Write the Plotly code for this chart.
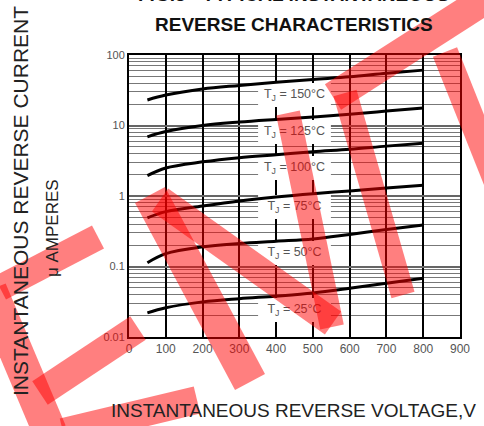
import plotly.graph_objects as go

# ---- data ----
voltage = [50, 100, 200, 300, 400, 500, 600, 700, 800]
i_150 = [23, 27, 33, 37, 41, 45, 49, 55, 61]
i_125 = [6.9, 8.2, 10, 11.2, 12.2, 13.2, 14.4, 16, 17.7]
i_100 = [1.95, 2.5, 3.05, 3.5, 3.85, 4.25, 4.6, 5.1, 5.6]
i_75 = [0.49, 0.6, 0.72, 0.85, 0.97, 1.08, 1.18, 1.3, 1.42]
i_50 = [0.113, 0.152, 0.19, 0.212, 0.228, 0.245, 0.285, 0.335, 0.388]
i_25 = [0.022, 0.026, 0.0315, 0.035, 0.038, 0.042, 0.049, 0.058, 0.068]

series = [("150", i_150), ("125", i_125), ("100", i_100),
          ("75", i_75), ("50", i_50), ("25", i_25)]

label_temps = ["150", "125", "100", "75", "50", "25"]
label_y = [27.1, 8.09, 2.49, 0.698, 0.155, 0.0241]
label_x = 450

x_ticks = [0, 100, 200, 300, 400, 500, 600, 700, 800, 900]
y_ticks = [0.01, 0.1, 1, 10, 100]
y_ticktext = ["0.01", "0.1", "1", "10", "100"]

FONT = "Arial, Liberation Sans, sans-serif"

fig = go.Figure()

# white boxes behind the temperature labels (above grid, below curves)
BOX_HALF_W = 99          # volts
BOX_HALF_H = 10 ** 0.17  # factor on log axis
for yv in label_y:
    fig.add_shape(type="rect", xref="x", yref="y",
                  x0=label_x - BOX_HALF_W, x1=label_x + BOX_HALF_W,
                  y0=yv / BOX_HALF_H, y1=yv * BOX_HALF_H,
                  fillcolor="white", line=dict(width=0), layer="between")

for name, vals in series:
    fig.add_trace(go.Scatter(x=voltage, y=vals, mode="lines",
                             line=dict(color="black", width=3, shape="spline"),
                             name=name, showlegend=False, hoverinfo="skip"))

fig.add_trace(go.Scatter(x=[label_x] * len(label_y), y=label_y, mode="text",
                         text=[f"T<sub>J</sub> = {t}°C" for t in label_temps],
                         textposition="middle center",
                         textfont=dict(family=FONT, size=12.5, color="#555"),
                         showlegend=False, hoverinfo="skip"))

# titles
fig.add_annotation(x=0.5, y=1, xref="paper", yref="paper", showarrow=False,
                   text="<b>FIG.3 - TYPICAL INSTANTANEOUS</b>", yanchor="middle",
                   yshift=61, xshift=-1,
                   font=dict(family=FONT, size=19, color="#111"))
fig.add_annotation(x=0.5, y=1, xref="paper", yref="paper", showarrow=False,
                   text="<b>REVERSE CHARACTERISTICS</b>", yanchor="middle",
                   yshift=31, xshift=-1,
                   font=dict(family=FONT, size=19, color="#111"))
fig.add_annotation(x=0.5, y=0, xref="paper", yref="paper", showarrow=False,
                   text="INSTANTANEOUS REVERSE VOLTAGE,V", yanchor="middle",
                   yshift=-73, xshift=-1,
                   font=dict(family=FONT, size=19, color="#222"))
fig.add_annotation(x=0, y=0.5, xref="paper", yref="paper", showarrow=False,
                   text="INSTANTANEOUS REVERSE CURRENT", textangle=-90,
                   xanchor="center", yanchor="middle", xshift=-109, yshift=-5,
                   font=dict(family=FONT, size=21, color="#222"))
fig.add_annotation(x=0, y=0.5, xref="paper", yref="paper", showarrow=False,
                   text="μ AMPERES", textangle=-90,
                   xanchor="center", yanchor="middle", xshift=-77, yshift=-32,
                   font=dict(family=FONT, size=17, color="#222"))

# watermark strokes (pixel coordinates of the page)
L, T, W, H = 129, 55, 331, 282
def px2paper(px, py):
    return (px - L) / W, (T + H - py) / H

strokes = [
    ((-10, 290), (50, 432), 34),
    ((0, 288), (98, 237), 26),
    ((40, 393), (138, 328), 28),
    ((63, 432), (197, 400), 28),
    ((150, 195), (250, 382), 34),
    ((160, 200), (333, 323), 28),
    ((288, 113), (332, 327), 24),
    ((345, 93), (403, 295), 24),
    ((333, 97), (500, -10), 30),
    ((445, 52), (500, 190), 26),
]
for (x0, y0), (x1, y1), w in strokes:
    a0, b0 = px2paper(x0, y0)
    a1, b1 = px2paper(x1, y1)
    fig.add_shape(type="line", xref="paper", yref="paper", x0=a0, y0=b0,
                  x1=a1, y1=b1, layer="above",
                  line=dict(color="rgba(255,0,0,0.5)", width=w))

fig.update_layout(
    width=484, height=426,
    margin=dict(l=129, r=24, t=55, b=89),
    paper_bgcolor="white", plot_bgcolor="white",
    font=dict(family=FONT),
    hovermode=False,
)
fig.update_xaxes(range=[0, 900], tickvals=x_ticks, showgrid=True,
                 gridcolor="black", gridwidth=1.5, zeroline=False,
                 showline=True, linecolor="black", linewidth=2, mirror=True,
                 ticks="", tickfont=dict(family=FONT, size=12, color="#555"))
fig.update_yaxes(type="log", range=[-2, 2], tickvals=y_ticks, ticktext=y_ticktext,
                 showgrid=True, gridcolor="#666", gridwidth=1.5, zeroline=False,
                 showline=True, linecolor="black", linewidth=2, mirror=True,
                 ticks="", tickfont=dict(family=FONT, size=11, color="#555"),
                 minor=dict(dtick="D1", showgrid=True, gridcolor="#777", gridwidth=1.2))

fig.write_html("out.html", config={"displayModeBar": False},
               post_script="document.body.style.margin='0';document.body.style.overflow='hidden';")
